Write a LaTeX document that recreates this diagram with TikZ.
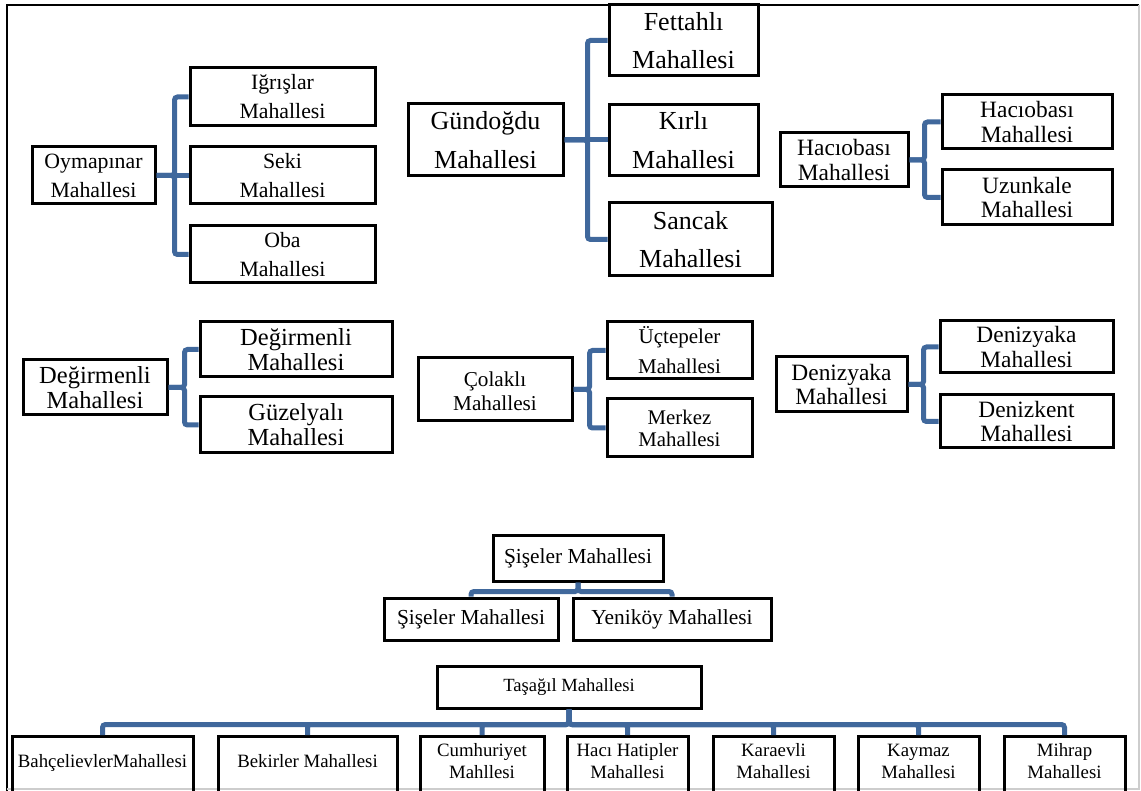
\documentclass[tikz,border=0pt]{standalone}
\usepackage{fontspec}
\setmainfont{Liberation Serif}
\definecolor{LinkClr}{RGB}{64,104,156}
\definecolor{FrameClr}{RGB}{205,205,205}

\begin{document}
\begin{tikzpicture}[x=1pt,y=-1pt,
  box/.style={draw,line width=3pt,align=center,inner sep=0pt},
  conn/.style={LinkClr,line width=5pt,rounded corners=3pt},
  leaf/.style={box,anchor=north,font=\fontsize{18.8}{22.5}\selectfont},
  leafone/.style={leaf,text height=31pt,text depth=44pt},
  leaftwo/.style={leaf,text height=42pt,text depth=33pt},
  fOym/.style={font=\fontsize{21.8}{29}\selectfont},
  fGun/.style={font=\fontsize{26}{38.5}\selectfont},
  fHac/.style={font=\fontsize{23.4}{24.5}\selectfont},
  fDeg/.style={font=\fontsize{24.5}{25}\selectfont},
  fCol/.style={font=\fontsize{21.2}{24}\selectfont},
  fSis/.style={font=\fontsize{21.4}{25}\selectfont}]
\useasboundingbox (0,0) rectangle (1141,791);
\clip (0,0) rectangle (1141,791);

% frame
\draw[line width=2pt] (7,791) -- (7,5) -- (1139,5);
\draw[FrameClr,line width=1.5pt] (1139,5) -- (1139,789) -- (7,789);

% Oymapinar
\node[box,fOym,minimum width=123,minimum height=57] (oym) at (93.5,175.5) {Oymapınar\\Mahallesi};
\node[box,fOym,minimum width=185,minimum height=58] (igr) at (282.5,97) {Iğrışlar\\Mahallesi};
\node[box,fOym,minimum width=185,minimum height=57] (seki) at (282.5,175.5) {Seki\\Mahallesi};
\node[box,fOym,minimum width=185,minimum height=57] (oba) at (282.5,254.5) {Oba\\Mahallesi};
\draw[conn] (oym.east) -- ++(18,0) |- (igr.west);
\draw[conn] (oym.east) -- (seki.west);
\draw[conn] (oym.east) -- ++(18,0) |- (oba.west);

% Gundogdu
\node[box,fGun,minimum width=155,minimum height=72] (gun) at (485.5,140) {Gündoğdu\\Mahallesi};
\node[box,fGun,minimum width=149,minimum height=71] (fet) at (683.5,40.5) {Fettahlı\\Mahallesi};
\node[box,fGun,minimum width=149,minimum height=71] (kir) at (683.5,140) {Kırlı\\Mahallesi};
\node[box,fGun,minimum width=163,minimum height=73] (san) at (690.5,239.5) {Sancak\\Mahallesi};
\draw[conn] (gun.east) -- ++(23,0) |- (fet.west);
\draw[conn] (gun.east) -- (kir.west);
\draw[conn] (gun.east) -- ++(23,0) |- (san.west);

% Haciobasi
\node[box,fHac,minimum width=128,minimum height=54] (hac) at (844,160) {Hacıobası\\Mahallesi};
\node[box,fHac,minimum width=170,minimum height=54] (hac1) at (1027,122) {Hacıobası\\Mahallesi};
\node[box,fHac,minimum width=170,minimum height=55] (uzu) at (1027,197.5) {Uzunkale\\Mahallesi};
\draw[conn] (hac.east) -- ++(15,0) |- (hac1.west);
\draw[conn] (hac.east) -- ++(15,0) |- (uzu.west);

% Degirmenli
\node[box,fDeg,minimum width=144,minimum height=55] (deg) at (95,387.5) {Değirmenli\\Mahallesi};
\node[box,fDeg,minimum width=192,minimum height=55] (deg1) at (296,349.5) {Değirmenli\\Mahallesi};
\node[box,fDeg,minimum width=192,minimum height=56] (guz) at (296,425) {Güzelyalı\\Mahallesi};
\draw[conn] (deg.east) -- ++(16,0) |- (deg1.west);
\draw[conn] (deg.east) -- ++(16,0) |- (guz.west);

% Colakli
\node[box,fCol,minimum width=154,minimum height=63,text height=53pt,text depth=10pt] (col) at (495,389.5) {Çolaklı\\Mahallesi};
\node[box,font=\fontsize{21}{30}\selectfont,minimum width=145,minimum height=57] (ucu) at (679.5,350.5) {Üçtepeler\\Mahallesi};
\node[box,font=\fontsize{20.8}{22}\selectfont,minimum width=145,minimum height=58] (mer) at (679.5,428) {Merkez\\Mahallesi};
\draw[conn] (col.east) -- ++(16,0) |- (ucu.west);
\draw[conn] (col.east) -- ++(16,0) |- (mer.west);

% Denizyaka
\node[box,fHac,minimum width=131,minimum height=55] (den) at (841.5,384.5) {Denizyaka\\Mahallesi};
\node[box,fHac,minimum width=173,minimum height=52] (den1) at (1026.5,347) {Denizyaka\\Mahallesi};
\node[box,fHac,minimum width=173,minimum height=53] (dek) at (1026.5,421.5) {Denizkent\\Mahallesi};
\draw[conn] (den.east) -- ++(15,0) |- (den1.west);
\draw[conn] (den.east) -- ++(15,0) |- (dek.west);

% Siseler
\node[box,fSis,minimum width=170,minimum height=46] (sis) at (578,558) {Şişeler Mahallesi};
\node[box,fSis,minimum width=174,minimum height=42] (sis1) at (471,619) {Şişeler Mahallesi};
\node[box,fSis,minimum width=198,minimum height=42] (yen) at (672,619) {Yeniköy Mahallesi};
\draw[conn] (sis.south) -- ++(0,9) -| (sis1.north);
\draw[conn] (sis.south) -- ++(0,9) -| (yen.north);

% Tasagil
\node[box,font=\fontsize{18.6}{21}\selectfont,minimum width=264,minimum height=42] (tas) at (569,687) {Taşağıl Mahallesi};
\node[leafone,minimum width=181] (bah) at (102.5,735) {BahçelievlerMahallesi};
\node[leafone,minimum width=179] (bek) at (307.5,735) {Bekirler Mahallesi};
\node[leaftwo,minimum width=124] (cum) at (482,735) {Cumhuriyet\\Mahllesi};
\node[leaftwo,minimum width=121] (hat) at (627.5,735) {Hacı Hatipler\\Mahallesi};
\node[leaftwo,minimum width=121] (kar) at (773.5,735) {Karaevli\\Mahallesi};
\node[leaftwo,minimum width=121] (kay) at (918.5,735) {Kaymaz\\Mahallesi};
\node[leaftwo,minimum width=121] (mih) at (1064.5,735) {Mihrap\\Mahallesi};
\foreach \n in {bah,bek,cum,hat,kar,kay,mih}
  \draw[conn] (tas.south) -- ++(0,15) -| (\n.north);

\end{tikzpicture}
\end{document}
